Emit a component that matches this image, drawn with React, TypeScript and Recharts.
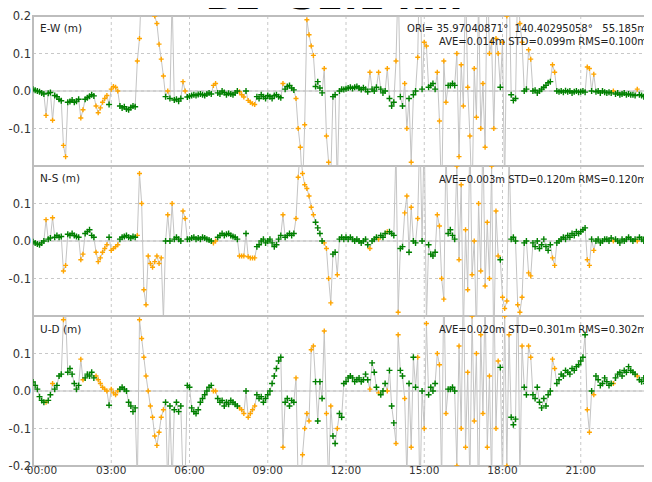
import React from "react";
import {
  ComposedChart,
  Line,
  Scatter,
  XAxis,
  YAxis,
  CartesianGrid,
  ReferenceLine,
  ReferenceArea,
} from "recharts";

// 5-minute epochs (12 per hour, 00:00 .. 24:00), residuals in millimetres
const EW_MM = [
  5, 2, 0, -2, -5, -8, -65, -6, -4, -78, -12, -15,
  -22, -26, -145, -175, -30, -28, -24, -30, -27, -22, -72, -50,
  -22, -18, -14, -10, -13, -40, -58, -45, -30, -20, -12, -36,
  5, 12, 10, 0, -40, -45, -42, -48, -50, -44, -40, -42,
  80, 140, 290, 340, 320, 300, 280, 250, 200, 180, 125, 85,
  40, -15, 0, -20, 250, -24, -22, -27, -20, 25, 0, -16,
  -14, -12, -10, -12, -9, -8, -10, -12, -8, -5, -8, 15,
  20, -5, -8, 0, -4, -10, -6, -8, -10, -5, 0, -2,
  -10, -16, 0, -25, -30, -34, -36, -15, -20, -10, -15, -20,
  -12, -15, -20, -12, -10, -15, -18, 20, 5, 12, 15, 8,
  3, -20, -100, -150, -260, -90, 190, 150, 120, 95, 12, 25,
  8, -5, 60, -120, -190, -230, -15, -10, -250, 0, 5, 4,
  6, 8, 10, 7, 10, 12, 8, 4, 9, 5, -2, 50,
  5, 0, 10, 50, 5, -5, 0, 60, -20, -40, -30, 80,
  300, -15, -40, 20, -100, -20, -190, -10, 0, 90, 400, 5,
  130, 120, 10, 15, 20, 5, 50, -80, -300, 80, -30, 15,
  15, 20, 15, 100, -175, 70, -40, 300, 10, -120, -300, 60,
  -70, 250, -100, 20, -150, 350, 100, 130, -100, 140, 100, 10,
  130, -260, 200, 300, -10, -25, -20, 300, 180, 130, 0, 5,
  110, 85, 0, 2, -5, 0, 5, 10, 15, 22, 25, 70,
  50, 0, -2, 0, -3, 1, -2, 0, -5, -2, 0, -3,
  -2, 0, -3, 64, 60, 0, 45, -2, 0, -5, 0, -3,
  -5, -3, -5, 0, -8, -5, -10, -8, -5, -10, -8, -10,
  -10, -12, 5, -10, -12, -15, -10, -12, -15, -18, -15, -20,
  -15,
];

const NS_MM = [
  -2, -5, -8, -10, -5, 0, 57, 5, 8, 62, 10, 15,
  10, 12, -80, -65, 18, 15, 20, 15, 12, 10, -50, -35,
  20, 25, 30, 15, 10, -30, -55, -45, -30, -20, -10, 10,
  -25, -20, -15, -10, 5, 10, 12, 15, 10, 8, 12, 10,
  15, 180, 100, -130, -170, -40, -60, -70, -55, -40, -60, -45,
  -210, 0, 70, 0, 100, 5, 10, 5, 0, 80, 60, 5,
  5, 8, 10, 5, 8, 5, 10, 8, 5, 3, 0, -5,
  0, 10, 15, 20, 15, 18, 20, 15, 12, 10, 5, -40,
  -40, -40, 20, -42, -45, -45, -45, -15, -10, 0, 5, -5,
  0, 5, -5, -15, -10, 5, 15, 70, 10, 15, 20, 15,
  20, 60, 170, 250, 180, 150, 140, 120, 90, 70, 50, 35,
  20, 0, -5, -20, -100, -165, -35, -30, -90, 5, 10, 5,
  10, 5, 10, 5, 0, 5, 0, -5, 0, 5, -10, -20,
  0, 5, 10, 5, 15, 10, 20, 25, 25, 20, 15, 250,
  -190, -20, -15, 75, 120, -30, 90, 0, -5, 60, 300, 0,
  300, -220, -10, -35, -40, -30, 70, 40, -100, -155, 250, 20,
  30, 15, 5, 200, -50, 150, -250, 30, -130, 300, -90, 0,
  -250, 100, -80, 300, -120, 50, -100, 200, -300, 80, -40, -50,
  -150, -180, -160, 250, 5, 10, 0, -170, -190, -150, -5, 0,
  -85, -93, -5, -15, 0, -20, -10, 5, -15, -25, -10, -45,
  -65, -5, 0, 5, 10, 5, 15, 10, 20, 15, 25, 20,
  25, 30, 35, -50, -65, 5, -25, 0, 5, -5, 0, 5,
  5, 0, 8, 0, 5, 0, -5, 5, 0, 5, 10, 5,
  0, 5, 0, 10, 5, 0, 10, 5, 15, 10, 5, 10,
  15,
];

const UD_MM = [
  24, 15, 5, -15, -25, -30, -30, -25, -10, 20, 5, 15,
  40, 45, 190, 210, 50, 60, 45, 20, 5, 15, 85, 30,
  35, 45, 40, 50, 35, 40, 30, 20, 10, 5, 0, -38,
  5, -5, -10, 0, 5, 10, 5, 0, -30, -40, -55, -45,
  -250, 190, 140, 90, 40, 0, -40, -70, -120, -145, -110, -70,
  -50, -30, -260, -40, -250, -50, -30, -55, -40, -240, -230, 15,
  10, -45, -55, -60, -50, -30, -20, -10, 0, 10, 15, 0,
  0, -20, -30, -25, -40, -30, -35, -25, -30, -35, -40, -45,
  -50, -60, 0, -70, -60, -50, -40, -10, -20, -15, -30, -20,
  -10, 0, 20, 40, 60, 80, 90, -150, -30, -20, -40, -25,
  -30, 35, -250, -260, -170, -100, -60, -80, 110, 120, 25, -80,
  25, -20, 160, -60, -250, -40, -120, -140, -100, -60, -70, 20,
  25, 35, 40, 35, 25, 30, 35, 25, 30, 45, 30, 5,
  75, 50, 10, -5, -10, 0, 20, 0, 55, -40, -85, -140,
  150, 55, 40, -20, -230, 20, -150, 90, 10, 90, -300, 0,
  -100, 180, -10, 10, 0, 20, 100, 70, -250, 300, -60, 5,
  5, 10, 0, -200, 120, -100, 300, -150, 50, -250, 200, -80,
  100, -300, 150, -60, 250, -150, 40, -250, 300, -100, 80, 63,
  -250, 200, -200, 150, -70, -90, -75, 300, -250, 120, 10, -10,
  120, 90, -10, -20, 10, -30, -45, -20, -40, -10, 0, 85,
  60, 20, 30, 45, 40, 55, 50, 45, 60, 55, 65, 70,
  80, 90, 150, -50, -110, 0, -10, 40, 30, 15, 20, 35,
  25, 15, 20, 20, 35, 45, 50, 40, 55, 50, 65, 55,
  50, 45, 40, 30, 25, 35, 20, 30, 25, 35, 20, 30,
  25,
];

// solution quality per epoch, one string per hour: G = fix, O = float
const QUALITY = [
  "GGGGGGOGGOGG", "GGOOGGGGGGOO", "GGGGGOOOOOOG", "OOOOGGGGGGGG",
  "OOOOOOOOOOOO", "OGOGOGGGGOOG", "GGGGGGGGGGGO", "OGGGGGGGGGGO",
  "OOGOOOOGGGGG", "GGGGGGGOGGGG", "GOOOOOOOOOGG", "GGOOOOGGOGGG",
  "GGGGGGGGGGGO", "GGGOGGGOGGGO", "OGGOOGOGGOOG", "OOGGGGOOOOOG",
  "GGGOOOOOOOOO", "OOOOOOOOOOOG", "OOOOGGGOOOGG", "OOGGGGGGGGGO",
  "OGGGGGGGGGGG", "GGGOOGOGGGGG", "GGGOGGGGGGGG", "GGOGGGGGGGGG",
  "G",
];

const HOUR_TICKS = [0, 3, 6, 9, 12, 15, 18, 21, 24];
const Y_TICKS_FIRST = [-0.2, -0.1, 0, 0.1, 0.2];
const Y_TICKS = [-0.2, -0.1, 0, 0.1];

const ORIGIN_TEXT = "ORI= 35.97040871°  140.40295058°   55.185m";
const STATS = [
  "AVE=0.014m STD=0.099m RMS=0.100m",
  "AVE=0.003m STD=0.120m RMS=0.120m",
  "AVE=0.020m STD=0.301m RMS=0.302m",
];
const LABELS = ["E-W (m)", "N-S (m)", "U-D (m)"];

const GREEN = "#008000";
const ORANGE = "#ffa500";
const TRACE = "#c4c4c4";
const FRAME = "#bdbdbd";
const FONT = "DejaVu Sans";

const quality = QUALITY.join("");

function toPoints(mm: number[]) {
  return mm.map((v, i) => ({ t: i / 12, v: v / 1000, q: quality[i] }));
}

const cross = (color: string, arm: number) => (props: any) => {
  const { cx, cy } = props;
  if (cx == null || cy == null) return <g />;
  return (
    <path
      d={`M${cx - arm},${cy}h${arm * 2}M${cx},${cy - arm}v${arm * 2}`}
      stroke={color}
      strokeWidth={1.4}
      fill="none"
    />
  );
};

const hhmm = (h: number) => `${String(h).padStart(2, "0")}:00`;

// the end-of-day label falls outside the visible frame, first label sits inside it
function TimeTick(props: any) {
  const { x, y, payload } = props;
  if (payload.value >= 24) return <g />;
  const shift = payload.value === 0 ? 9 : 0;
  return (
    <text
      x={x + shift}
      y={y + 2}
      textAnchor="middle"
      fontSize={10.5}
      fontFamily={FONT}
      fill="#333"
    >
      {hhmm(payload.value)}
    </text>
  );
}

interface PanelProps {
  mm: number[];
  top: number;
  height: number;
  ticks: number[];
  showTime?: boolean;
}

function Panel({ mm, top, height, ticks, showTime }: PanelProps) {
  const pts = toPoints(mm);
  const fix = pts.filter((p) => p.q === "G");
  const flt = pts.filter((p) => p.q === "O");

  return (
    <div style={{ position: "absolute", left: 0, top }}>
      <ComposedChart
        width={664}
        height={height}
        data={pts}
        margin={{ top: 16, right: 5, bottom: showTime ? 0 : 4, left: 0 }}
      >
        <CartesianGrid stroke="#c8c8c8" strokeDasharray="3 3" />
        <XAxis
          dataKey="t"
          type="number"
          domain={[0, 24]}
          ticks={HOUR_TICKS}
          allowDataOverflow
          hide={!showTime}
          height={16}
          axisLine={false}
          tickLine={false}
          tickSize={0}
          tickMargin={6}
          tick={<TimeTick />}
        />
        <YAxis
          type="number"
          domain={[-0.2, 0.2]}
          ticks={ticks}
          allowDataOverflow
          width={33}
          axisLine={false}
          tickLine={false}
          tickSize={0}
          tickMargin={2}
          tickFormatter={(v: number) => v.toFixed(1)}
          tick={{ fontSize: 11.5, fill: "#333", fontFamily: FONT }}
        />
        <ReferenceLine y={0} stroke={FRAME} />
        <Line
          dataKey="v"
          type="linear"
          stroke={TRACE}
          strokeWidth={1}
          dot={false}
          isAnimationActive={false}
        />
        <Scatter
          data={flt}
          dataKey="v"
          shape={cross(ORANGE, 2.5)}
          isAnimationActive={false}
        />
        <Scatter
          data={fix}
          dataKey="v"
          shape={cross(GREEN, 3)}
          isAnimationActive={false}
        />
        <ReferenceArea
          x1={0}
          x2={24}
          y1={-0.2}
          y2={0.2}
          fill="none"
          fillOpacity={0}
          stroke={FRAME}
          strokeWidth={2}
        />
      </ComposedChart>
    </div>
  );
}

export default function App() {
  return (
    <div
      style={{
        position: "relative",
        width: 652,
        height: 482,
        margin: -8,
        overflow: "hidden",
        background: "#fff",
      }}
    >
      <Panel mm={EW_MM} top={0} height={170} ticks={Y_TICKS_FIRST} />
      <Panel mm={NS_MM} top={150} height={170} ticks={Y_TICKS} />
      <Panel mm={UD_MM} top={300} height={182} ticks={Y_TICKS} showTime />
      <svg
        width={652}
        height={482}
        style={{ position: "absolute", left: 0, top: 0, pointerEvents: "none" }}
      >
        <text
          x={334}
          y={9}
          textAnchor="middle"
          fontFamily={FONT}
          fontWeight="bold"
          fontSize={38}
          fill="#000"
        >
          BL=32.1 km
        </text>
        {LABELS.map((label, i) => (
          <text
            key={label}
            x={40}
            y={31.5 + i * 150.7}
            fontFamily={FONT}
            fontSize={10.5}
            fill="#222"
          >
            {label}
          </text>
        ))}
        <text
          x={647}
          y={31.5}
          textAnchor="end"
          fontFamily={FONT}
          fontSize={10}
          fill="#222"
          xmlSpace="preserve"
          style={{ whiteSpace: "pre" }}
        >
          {ORIGIN_TEXT}
        </text>
        {STATS.map((s, i) => (
          <text
            key={s}
            x={647}
            y={i === 0 ? 44.5 : 33 + i * 150}
            textAnchor="end"
            fontFamily={FONT}
            fontSize={10}
            fill="#222"
          >
            {s}
          </text>
        ))}
      </svg>
    </div>
  );
}
